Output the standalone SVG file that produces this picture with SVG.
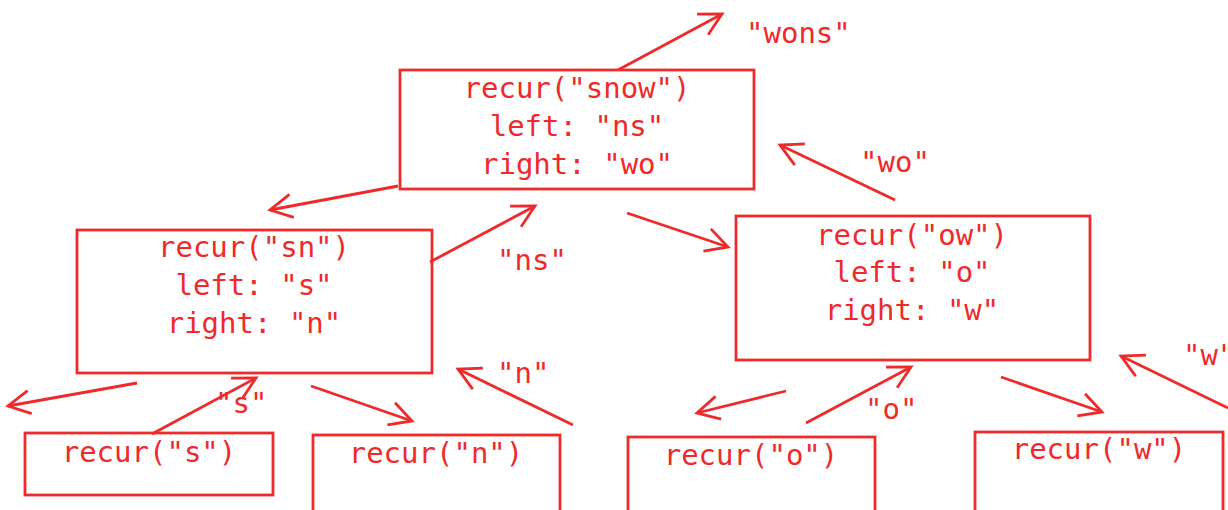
<svg xmlns="http://www.w3.org/2000/svg" width="1228" height="510" viewBox="0 0 1228 510">
<defs>
<marker id="ah" markerUnits="userSpaceOnUse" markerWidth="40" markerHeight="40" refX="0" refY="0" viewBox="-30 -20 40 40" orient="auto" overflow="visible">
<path d="M-22,-11.7 L0,0 L-22,11.7" fill="none" stroke="#ee2a2a" stroke-width="2.8"/>
</marker>
</defs>
<style>
.box{fill:#fff;stroke:#ee2a2a;stroke-width:2.8}
.t{font-family:"DejaVu Sans Mono","Liberation Mono",monospace;font-size:29px;fill:#ee2a2a;text-anchor:middle}
.l{font-family:"DejaVu Sans Mono","Liberation Mono",monospace;font-size:29px;fill:#ee2a2a}
.c{fill:none;stroke:#ee2a2a;stroke-width:2.8;marker-end:url(#ah)}
</style>
<rect width="1228" height="510" fill="#fff"/>
<g id="root">
<rect class="box" x="400" y="70" width="354" height="119"/>
<text class="t" x="577" y="98">recur("snow")</text>
<text class="t" x="577" y="136">left: "ns"</text>
<text class="t" x="577" y="174">right: "wo"</text>
</g>
<g id="sn">
<rect class="box" x="77" y="230" width="355" height="143"/>
<text class="t" x="254" y="257">recur("sn")</text>
<text class="t" x="254" y="295">left: "s"</text>
<text class="t" x="254" y="333">right: "n"</text>
</g>
<g id="ow">
<rect class="box" x="736" y="216" width="354" height="144"/>
<text class="t" x="912" y="245">recur("ow")</text>
<text class="t" x="912" y="282">left: "o"</text>
<text class="t" x="912" y="320">right: "w"</text>
</g>
<g id="s">
<rect class="box" x="25" y="433" width="248" height="62"/>
<text class="t" x="149" y="462">recur("s")</text>
</g>
<g id="n">
<rect class="box" x="313" y="435" width="247" height="90"/>
<text class="t" x="436" y="463">recur("n")</text>
</g>
<g id="o">
<rect class="box" x="628" y="437" width="247" height="90"/>
<text class="t" x="751" y="465">recur("o")</text>
</g>
<g id="w">
<rect class="box" x="975" y="432" width="248" height="90"/>
<text class="t" x="1099" y="459">recur("w")</text>
</g>
<g id="connectors">
<line class="c" x1="618" y1="70" x2="722" y2="14"/>
<line class="c" x1="398" y1="186" x2="270" y2="210"/>
<line class="c" x1="430" y1="262" x2="535" y2="206"/>
<line class="c" x1="895" y1="200" x2="780" y2="145"/>
<line class="c" x1="627" y1="213" x2="728" y2="247"/>
<line class="c" x1="137" y1="383" x2="8" y2="406"/>
<line class="c" x1="152" y1="434" x2="256" y2="378"/>
<line class="c" x1="311" y1="386" x2="412" y2="421"/>
<line class="c" x1="573" y1="425" x2="458" y2="369"/>
<line class="c" x1="786" y1="391" x2="697" y2="413"/>
<line class="c" x1="806" y1="423" x2="911" y2="367"/>
<line class="c" x1="1001" y1="377" x2="1102" y2="412"/>
<line class="c" x1="1228" y1="408" x2="1121" y2="356"/>
</g>
<g id="labels">
<text class="l" x="746" y="43">"wons"</text>
<text class="l" x="860" y="172">"wo"</text>
<text class="l" x="497" y="270">"ns"</text>
<text class="l" x="497" y="383">"n"</text>
<text class="l" x="215" y="413">"s"</text>
<text class="l" x="865" y="419">"o"</text>
<text class="l" x="1183" y="365">"w"</text>
</g>
</svg>
